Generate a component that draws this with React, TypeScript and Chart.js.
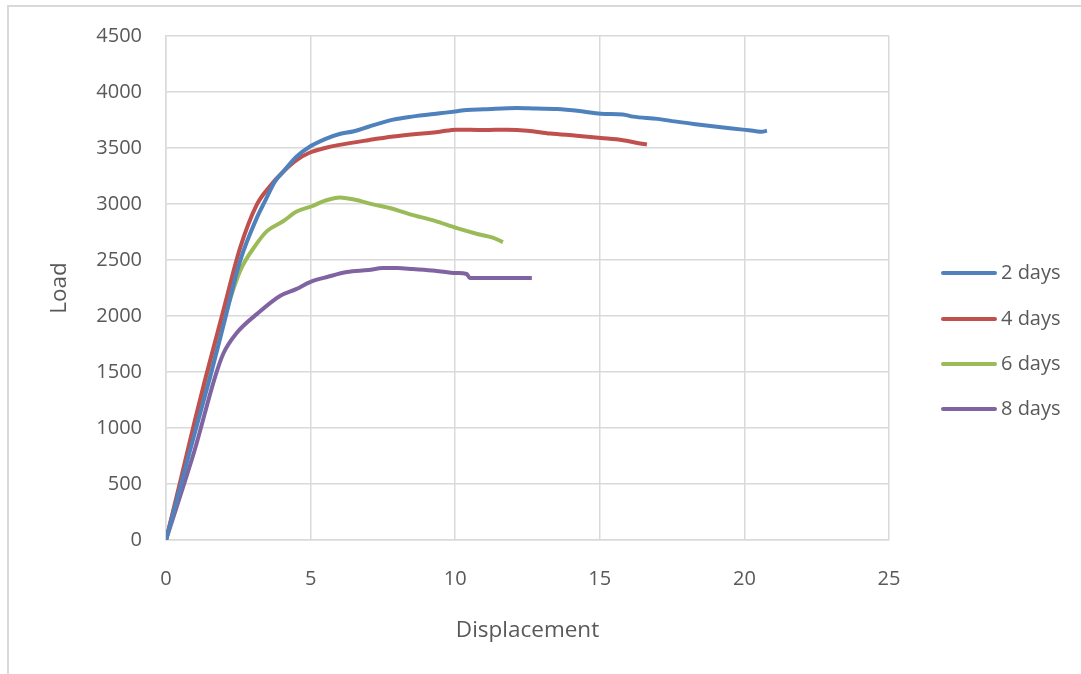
import React, { useEffect, useRef } from "react";
import { Chart, registerables } from "chart.js";

Chart.register(...registerables);

const seriesNames = ["2 days", "4 days", "6 days", "8 days"];
const seriesColors = ["#4F81BD", "#C0504D", "#9BBB59", "#8064A2"];

const disp2 = [0, 0.5, 1.0, 1.52, 2.0, 2.56, 3.14, 3.42, 3.77, 4.06, 4.5, 4.98, 5.5, 6.0, 6.5, 7.0, 7.86, 8.5, 9.47, 10.0, 10.4, 11.0, 12.14, 12.8, 13.52, 14.3, 15.04, 15.8, 16.15, 17.0, 17.5, 18.46, 19.2, 19.95, 20.4, 20.6, 20.78];
const load2 = [0, 480, 960, 1450, 1930, 2490, 2876, 3024, 3202, 3290, 3420, 3513, 3580, 3625, 3650, 3690, 3753, 3780, 3810, 3826, 3840, 3846, 3858, 3852, 3848, 3830, 3806, 3800, 3780, 3760, 3740, 3708, 3685, 3664, 3650, 3645, 3655];

const disp4 = [0, 0.5, 1.0, 1.35, 1.98, 2.56, 3.14, 3.6, 4.06, 4.5, 4.98, 5.5, 6.0, 7.0, 7.86, 9.47, 10.03, 11.0, 11.79, 12.5, 13.28, 14.2, 15.04, 15.8, 16.3, 16.63];
const load4 = [0, 530, 1070, 1430, 2046, 2606, 2994, 3160, 3290, 3390, 3460, 3500, 3528, 3570, 3602, 3646, 3664, 3660, 3664, 3655, 3629, 3610, 3590, 3570, 3545, 3531];

const disp6 = [0, 0.5, 1.0, 1.42, 1.98, 2.56, 3.15, 3.5, 4.05, 4.5, 5.04, 5.5, 6.02, 6.5, 7.16, 7.8, 8.44, 9.3, 10.06, 10.8, 11.3, 11.65];
const load6 = [0, 500, 1000, 1450, 1957, 2401, 2650, 2760, 2846, 2930, 2980, 3030, 3059, 3040, 2997, 2960, 2908, 2850, 2784, 2730, 2700, 2659];

const disp8 = [0, 0.5, 1.0, 1.69, 1.98, 2.45, 3.15, 3.94, 4.5, 5.0, 5.6, 6.26, 7.0, 7.5, 8.0, 8.54, 9.3, 10.03, 10.4, 10.5, 11.5, 12.65];
const load8 = [0, 400, 810, 1450, 1663, 1850, 2019, 2179, 2240, 2305, 2350, 2392, 2410, 2428, 2428, 2419, 2405, 2384, 2375, 2340, 2340, 2340];

const xTitle = "Displacement";
const yTitle = "Load";

const FONT = "'Open Sans', sans-serif";
const TEXT = "#595959";
const GRID = "#d9d9d9";

const seriesDisp = [disp2, disp4, disp6, disp8];
const seriesLoad = [load2, load4, load6, load8];

const frame = {
  id: "frame",
  beforeDraw(chart: any) {
    const ctx = chart.ctx;
    ctx.save();
    ctx.fillStyle = "#ffffff";
    ctx.fillRect(0, 0, chart.width, chart.height);
    ctx.strokeStyle = GRID;
    ctx.lineWidth = 2;
    ctx.beginPath();
    ctx.moveTo(8, 674);
    ctx.lineTo(8, 6);
    ctx.lineTo(1081, 6);
    ctx.stroke();
    ctx.restore();
  },
  afterDraw(chart: any) {
    const ctx = chart.ctx;
    ctx.save();
    const ys = [273, 319, 364, 409];
    chart.data.datasets.forEach((ds: any, i: number) => {
      ctx.strokeStyle = ds.borderColor;
      ctx.lineWidth = 4;
      ctx.lineCap = "round";
      ctx.beginPath();
      ctx.moveTo(943, ys[i]);
      ctx.lineTo(995, ys[i]);
      ctx.stroke();
      ctx.fillStyle = TEXT;
      ctx.font = "20px " + FONT;
      ctx.textAlign = "left";
      ctx.textBaseline = "middle";
      ctx.fillText(ds.label, 1001, ys[i]);
    });
    ctx.restore();
  },
};

export default function App() {
  const ref = useRef<HTMLCanvasElement>(null);
  useEffect(() => {
    if (!ref.current) return;
    const datasets = seriesNames.map((name, i) => ({
      label: name,
      data: seriesDisp[i].map((x, j) => ({ x, y: seriesLoad[i][j] })),
      borderColor: seriesColors[i],
      backgroundColor: seriesColors[i],
      borderWidth: 4,
      pointRadius: 0,
      cubicInterpolationMode: "monotone" as const,
      fill: false,
    }));
    const chart = new Chart(ref.current, {
      type: "line",
      data: { datasets },
      options: {
        animation: false,
        responsive: false,
        maintainAspectRatio: false,
        layout: { padding: { left: 0, top: 34, right: 192, bottom: 0 } },
        plugins: { legend: { display: false }, tooltip: { enabled: false } },
        scales: {
          x: {
            type: "linear",
            min: 0,
            max: 25,
            ticks: { stepSize: 5, padding: 27, color: TEXT, font: { family: FONT, size: 20 }, callback: (v: any) => String(v) },
            grid: { color: GRID, lineWidth: 1.5, drawTicks: false },
            border: { color: GRID, width: 1.5 },
            title: { display: true, text: xTitle, color: TEXT, font: { family: FONT, size: 22.5 }, padding: { top: 0, bottom: 30 } },
            afterFit: (s: any) => { s.height = 134; },
          },
          y: {
            type: "linear",
            min: 0,
            max: 4500,
            ticks: { stepSize: 500, padding: 24, color: TEXT, font: { family: FONT, size: 20 }, callback: (v: any) => String(v) },
            grid: { color: GRID, lineWidth: 1.5, drawTicks: false },
            border: { color: GRID, width: 1.5 },
            title: { display: true, text: yTitle, color: TEXT, font: { family: FONT, size: 22.5 }, padding: { top: 46, bottom: 0 } },
            afterFit: (s: any) => { s.width = 166; },
          },
        },
      },
      plugins: [frame],
    });
    return () => chart.destroy();
  }, []);
  return (
    <div style={{ position: "fixed", left: 0, top: 0, width: 1081, height: 674, background: "#fff" }}>
      <canvas ref={ref} width={1081} height={674} style={{ width: 1081, height: 674, display: "block" }} />
    </div>
  );
}
